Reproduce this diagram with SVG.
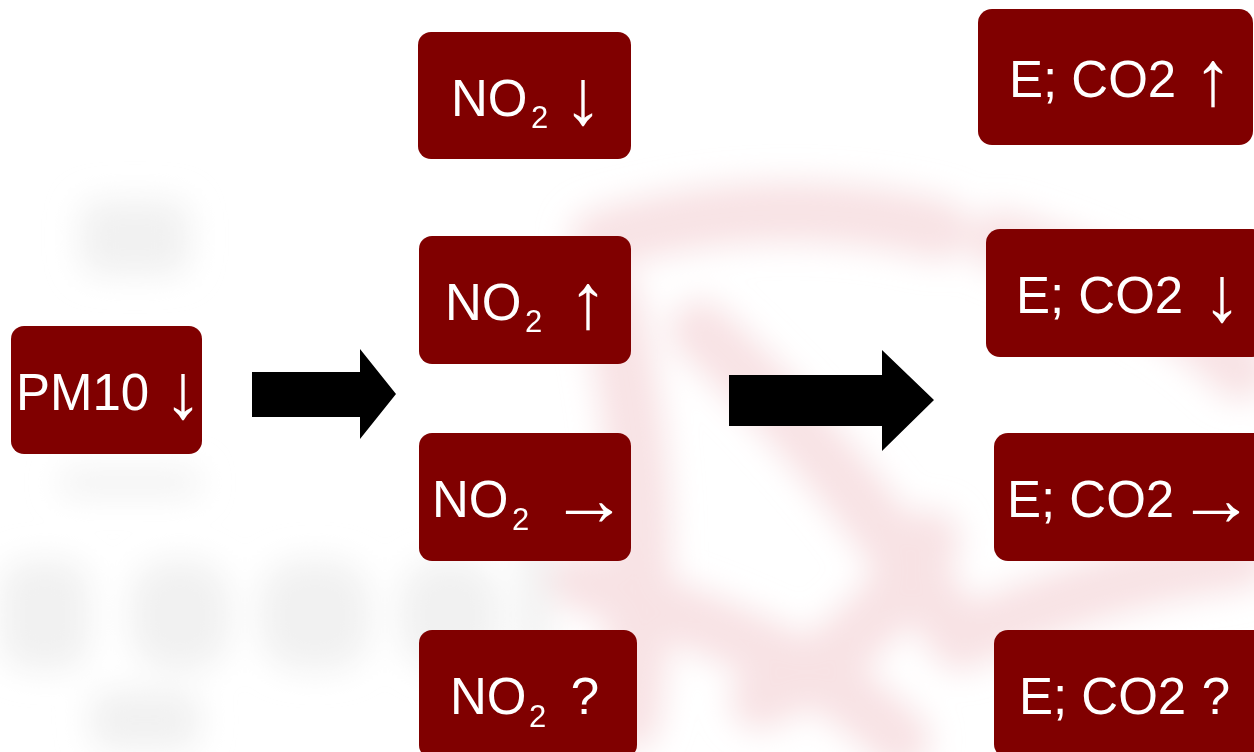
<svg xmlns="http://www.w3.org/2000/svg" width="1254" height="752" viewBox="0 0 1254 752">
  <defs>
    <style>
      .box { fill: #800000; }
      .t { font-family: "Liberation Sans", Arial, sans-serif; font-size: 51px; fill: #ffffff; }
      .sub { font-size: 31px; }
      .ar { font-size: 78px; text-anchor: middle; }
      .q { text-anchor: middle; }
      .big-arrow { fill: #000000; }
    </style>
    <filter id="blur" x="-30%" y="-30%" width="160%" height="160%">
      <feGaussianBlur stdDeviation="16"/>
    </filter>
  </defs>

  <rect width="1254" height="752" fill="#ffffff"/>

  <g id="background" filter="url(#blur)">
    <g fill="#f1f1f1">
      <rect x="80" y="200" width="110" height="75" rx="20"/>
      <rect x="60" y="470" width="140" height="25" rx="10"/>
      <rect x="0" y="560" width="90" height="110" rx="30"/>
      <rect x="130" y="560" width="100" height="110" rx="40"/>
      <rect x="260" y="560" width="110" height="110" rx="40"/>
      <rect x="400" y="560" width="100" height="110" rx="40"/>
      <rect x="520" y="500" width="30" height="170" rx="10"/>
      <rect x="90" y="690" width="110" height="60" rx="20"/>
    </g>
    <g fill="none" stroke="#f7dde0" stroke-width="60" stroke-linecap="round" opacity="0.85">
      <path d="M600 240 C 700 210 820 200 940 230"/>
      <path d="M610 300 C 640 420 650 560 630 720"/>
      <path d="M700 330 C 800 420 880 520 960 640"/>
      <path d="M1000 240 C 1100 270 1180 310 1240 370"/>
      <path d="M960 640 C 1050 600 1150 570 1240 560"/>
      <path d="M760 700 C 840 660 900 600 930 540"/>
      <path d="M580 580 C 700 620 820 660 900 740"/>
    </g>
  </g>

  <g id="connectors">
    <polygon class="big-arrow" points="252,372 360,372 360,349 396,394 360,439 360,417 252,417"/>
    <polygon class="big-arrow" points="729,375 882,375 882,350 934,400 882,451 882,426 729,426"/>
  </g>

  <g id="pm10">
    <rect class="box" x="11" y="326" width="191" height="128" rx="13"/>
    <text class="t" x="16" y="410">PM10</text>
    <text class="t ar" x="183" y="418">↓</text>
  </g>

  <g id="no2-down">
    <rect class="box" x="418" y="32" width="213" height="127" rx="13"/>
    <text class="t" x="451" y="116">NO</text>
    <text class="t sub" x="531" y="128">2</text>
    <text class="t ar" x="583" y="124">↓</text>
  </g>

  <g id="no2-up">
    <rect class="box" x="419" y="236" width="212" height="128" rx="13"/>
    <text class="t" x="445" y="320">NO</text>
    <text class="t sub" x="525" y="332">2</text>
    <text class="t ar" x="588" y="328">↑</text>
  </g>

  <g id="no2-same">
    <rect class="box" x="419" y="433" width="212" height="128" rx="13"/>
    <text class="t" x="432" y="517">NO</text>
    <text class="t sub" x="512" y="530">2</text>
    <text class="t ar" x="589" y="525">→</text>
  </g>

  <g id="no2-unknown">
    <rect class="box" x="419" y="630" width="218" height="128" rx="13"/>
    <text class="t" x="450" y="714">NO</text>
    <text class="t sub" x="529" y="727">2</text>
    <text class="t q" x="585" y="714">?</text>
  </g>

  <g id="eco2-up">
    <rect class="box" x="978" y="9" width="275" height="136" rx="14"/>
    <text class="t" x="1009" y="97">E; CO2</text>
    <text class="t ar" x="1213" y="105">↑</text>
  </g>

  <g id="eco2-down">
    <rect class="box" x="986" y="229" width="280" height="128" rx="14"/>
    <text class="t" x="1016" y="313">E; CO2</text>
    <text class="t ar" x="1222" y="321">↓</text>
  </g>

  <g id="eco2-same">
    <rect class="box" x="994" y="433" width="280" height="128" rx="14"/>
    <text class="t" x="1007" y="517">E; CO2</text>
    <text class="t ar" x="1216" y="525">→</text>
  </g>

  <g id="eco2-unknown">
    <rect class="box" x="994" y="630" width="280" height="128" rx="14"/>
    <text class="t" x="1019" y="714">E; CO2</text>
    <text class="t q" x="1216" y="714">?</text>
  </g>
</svg>
